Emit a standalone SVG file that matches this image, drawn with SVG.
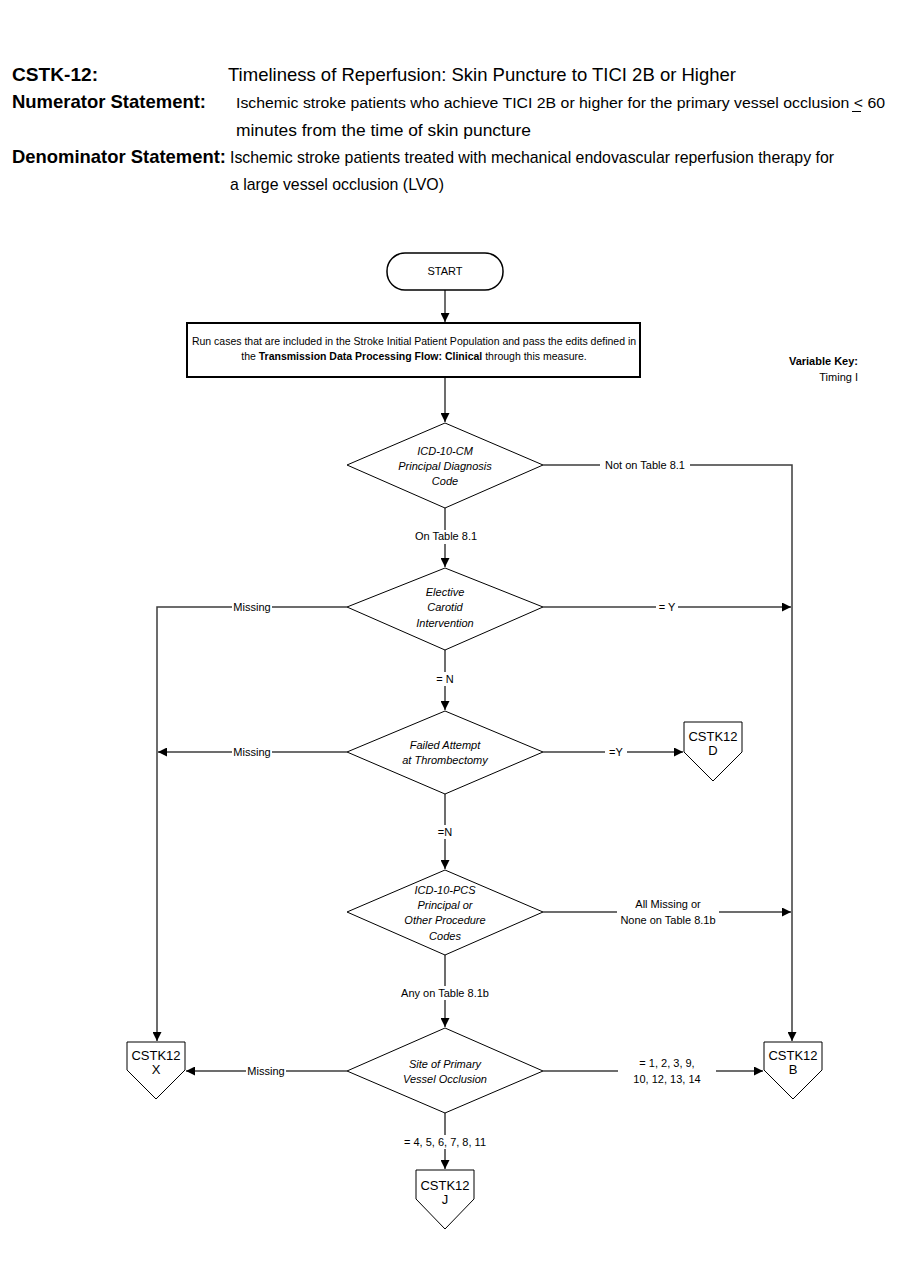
<svg xmlns="http://www.w3.org/2000/svg" width="900" height="1286" viewBox="0 0 900 1286">
<defs>
<marker id="ah" viewBox="0 0 10 10" refX="10" refY="5" markerWidth="9" markerHeight="9" markerUnits="userSpaceOnUse" orient="auto">
<path d="M0,0 L10,5 L0,10 z" fill="#000"/>
</marker>
<style>
text{font-family:"Liberation Sans Narrow","Liberation Sans",Arial,sans-serif;fill:#000}
.h{font-size:19px}
.hb{font-size:19px;font-weight:bold}
.s{font-size:17px}
.n{font-size:11px;text-anchor:middle}
.ni{font-size:11px;text-anchor:middle;font-style:italic}
.lb{font-size:11px;text-anchor:middle}
.c{font-size:13px;text-anchor:middle}
.shape{fill:#fff;stroke:#000;stroke-width:1}
.conn{fill:none;stroke:#3c3c3c;stroke-width:1.5}
.arr{marker-end:url(#ah)}
.bg{fill:#fff}
</style>
</defs>
<rect width="900" height="1286" fill="#fff"/>

<g id="header">
<text class="hb" x="12" y="81" textLength="86" lengthAdjust="spacingAndGlyphs">CSTK-12:</text>
<text class="h" x="228" y="81" textLength="508" lengthAdjust="spacingAndGlyphs">Timeliness of Reperfusion: Skin Puncture to TICI 2B or Higher</text>
<text class="hb" x="12" y="108" textLength="194" lengthAdjust="spacingAndGlyphs">Numerator Statement:</text>
<text class="s" x="236" y="108" style="font-size:15.5px" textLength="649" lengthAdjust="spacingAndGlyphs">Ischemic stroke patients who achieve TICI 2B or higher for the primary vessel occlusion &lt; 60</text>
<line x1="852" y1="111.5" x2="861" y2="111.5" stroke="#000" stroke-width="1"/>
<text class="s" x="236" y="136" textLength="295" lengthAdjust="spacingAndGlyphs">minutes from the time of skin puncture</text>
<text class="hb" x="12" y="163" textLength="214" lengthAdjust="spacingAndGlyphs">Denominator Statement:</text>
<text class="s" x="230" y="163" textLength="604" lengthAdjust="spacingAndGlyphs">Ischemic stroke patients treated with mechanical endovascular reperfusion therapy for</text>
<text class="s" x="230" y="190" textLength="214" lengthAdjust="spacingAndGlyphs">a large vessel occlusion (LVO)</text>
</g>

<g id="varkey">
<text x="858" y="365" style="font-size:11px;font-weight:bold;text-anchor:end">Variable Key:</text>
<text x="858" y="381" style="font-size:11px;text-anchor:end">Timing I</text>
</g>

<g id="connectors">
<line class="conn arr" x1="445" y1="290" x2="445" y2="322"/>
<line class="conn arr" x1="445" y1="377" x2="445" y2="422"/>
<polyline class="conn arr" points="543,465 792,465 792,1041"/>
<line class="conn arr" x1="445" y1="508" x2="445" y2="567"/>
<polyline class="conn arr" points="347,607 157,607 157,1041"/>
<line class="conn arr" x1="543" y1="607" x2="791" y2="607"/>
<line class="conn arr" x1="445" y1="650" x2="445" y2="710"/>
<line class="conn arr" x1="347" y1="752" x2="158" y2="752"/>
<line class="conn arr" x1="543" y1="752" x2="683" y2="752"/>
<line class="conn arr" x1="445" y1="794" x2="445" y2="869"/>
<line class="conn arr" x1="543" y1="912" x2="791" y2="912"/>
<line class="conn arr" x1="445" y1="955" x2="445" y2="1027"/>
<line class="conn arr" x1="347" y1="1071" x2="186" y2="1071"/>
<line class="conn arr" x1="543" y1="1071" x2="763" y2="1071"/>
<line class="conn arr" x1="445" y1="1113" x2="445" y2="1169"/>
<!-- labels -->
<rect class="bg" x="600" y="458" width="90" height="14"/>
<text class="lb" x="645" y="469">Not on Table 8.1</text>
<rect class="bg" x="410" y="530" width="70" height="14"/>
<text class="lb" x="446" y="540">On Table 8.1</text>
<rect class="bg" x="232" y="600" width="40" height="14"/>
<text class="lb" x="252" y="611">Missing</text>
<rect class="bg" x="656" y="600" width="22" height="14"/>
<text class="lb" x="667" y="611">= Y</text>
<rect class="bg" x="433" y="672" width="24" height="14"/>
<text class="lb" x="445" y="683">= N</text>
<rect class="bg" x="232" y="745" width="40" height="14"/>
<text class="lb" x="252" y="756">Missing</text>
<rect class="bg" x="605" y="745" width="22" height="14"/>
<text class="lb" x="616" y="756">=Y</text>
<rect class="bg" x="434" y="825" width="22" height="14"/>
<text class="lb" x="445" y="836">=N</text>
<rect class="bg" x="617" y="897" width="102" height="30"/>
<text class="lb" x="668" y="908">All Missing or</text>
<text class="lb" x="668" y="924">None on Table 8.1b</text>
<rect class="bg" x="397" y="986" width="96" height="14"/>
<text class="lb" x="445" y="997">Any on Table 8.1b</text>
<rect class="bg" x="246" y="1064" width="40" height="14"/>
<text class="lb" x="266" y="1075">Missing</text>
<rect class="bg" x="618" y="1055" width="98" height="30"/>
<text class="lb" x="667" y="1067">= 1, 2, 3, 9,</text>
<text class="lb" x="667" y="1083">10, 12, 13, 14</text>
<rect class="bg" x="389" y="1135" width="112" height="14"/>
<text class="lb" x="445" y="1146">= 4, 5, 6, 7, 8, 11</text>
</g>

<g id="start">
<rect class="shape" x="387" y="253" width="116" height="37" rx="18" ry="18" style="stroke-width:1.5"/>
<text class="n" x="445" y="275">START</text>
</g>

<g id="run">
<rect class="shape" x="187" y="323" width="453" height="54" style="stroke-width:2"/>
<text class="n" x="414" y="345" style="font-size:10.5px">Run cases that are included in the Stroke Initial Patient Population and pass the edits defined in</text>
<text class="n" x="414" y="360" style="font-size:10.5px">the <tspan font-weight="bold">Transmission Data Processing Flow: Clinical</tspan> through this measure.</text>
</g>

<g id="d1">
<polygon class="shape" points="445,423 543,465 445,508 347,465"/>
<text class="ni" x="445" y="455">ICD-10-CM</text>
<text class="ni" x="445" y="470">Principal Diagnosis</text>
<text class="ni" x="445" y="485">Code</text>
</g>

<g id="d2">
<polygon class="shape" points="445,568 543,607 445,650 347,607"/>
<text class="ni" x="445" y="596">Elective</text>
<text class="ni" x="445" y="611">Carotid</text>
<text class="ni" x="445" y="627">Intervention</text>
</g>

<g id="d3">
<polygon class="shape" points="445,711 543,752 445,794 347,752"/>
<text class="ni" x="445" y="749">Failed Attempt</text>
<text class="ni" x="445" y="764">at Thrombectomy</text>
</g>

<g id="d4">
<polygon class="shape" points="445,870 543,912 445,955 347,912"/>
<text class="ni" x="445" y="894">ICD-10-PCS</text>
<text class="ni" x="445" y="909">Principal or</text>
<text class="ni" x="445" y="924">Other Procedure</text>
<text class="ni" x="445" y="940">Codes</text>
</g>

<g id="d5">
<polygon class="shape" points="445,1028 543,1071 445,1113 347,1071"/>
<text class="ni" x="445" y="1068">Site of Primary</text>
<text class="ni" x="445" y="1083">Vessel Occlusion</text>
</g>

<g id="cD">
<polygon class="shape" points="684,722 742,722 742,752 713,781 684,752"/>
<text class="c" x="713" y="741">CSTK12</text>
<text class="c" x="713" y="755">D</text>
</g>

<g id="cX">
<polygon class="shape" points="127,1042 185,1042 185,1070 156,1099 127,1070"/>
<text class="c" x="156" y="1060">CSTK12</text>
<text class="c" x="156" y="1074">X</text>
</g>

<g id="cB">
<polygon class="shape" points="764,1042 822,1042 822,1070 793,1099 764,1070"/>
<text class="c" x="793" y="1060">CSTK12</text>
<text class="c" x="793" y="1074">B</text>
</g>

<g id="cJ">
<polygon class="shape" points="416,1170 474,1170 474,1199 445,1229 416,1199"/>
<text class="c" x="445" y="1190">CSTK12</text>
<text class="c" x="445" y="1204">J</text>
</g>
</svg>
